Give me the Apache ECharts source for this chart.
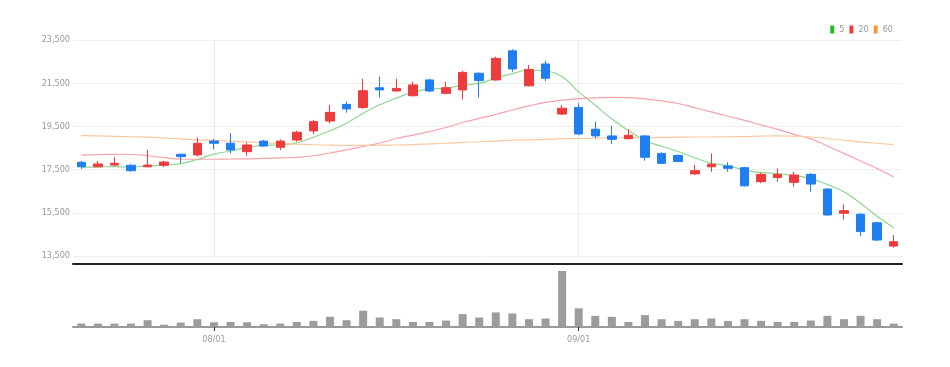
<!DOCTYPE html>
<html>
<head>
<meta charset="utf-8">
<script src="https://cdn.jsdelivr.net/npm/echarts@6/dist/echarts.min.js"></script>
<style>html,body{margin:0;padding:0;background:#fff;}#c{width:950px;height:367px;}</style>
</head>
<body>
<div id="c"></div>
<script>
const dates = ['07/20','07/21','07/24','07/25','07/26','07/27','07/28','07/31',
  '08/01','08/02','08/03','08/04','08/07','08/08','08/09','08/10','08/11','08/14','08/16','08/17','08/18',
  '08/21','08/22','08/23','08/24','08/25','08/28','08/29','08/30','08/31',
  '09/01','09/04','09/05','09/06','09/07','09/08','09/11','09/12','09/13','09/14','09/15',
  '09/18','09/19','09/20','09/21','09/22','09/25','09/26','09/27','10/04'];
const tickLabels = ['08/01','09/01'];
const opens  = [17840,17630,17710,17700,17630,17700,18210,18180,18820,18720,18330,18820,18530,18870,19290,19750,20520,20380,21290,21140,
                20920,21650,21030,21190,21960,21650,23000,21380,22390,20070,20380,19370,19060,18930,19060,18250,18160,17300,17630,17670,
                17590,16940,17130,16910,17280,16600,15480,15430,15040,13960];
const closes = [17630,17760,17790,17450,17710,17850,18100,18720,18720,18410,18640,18590,18820,19230,19720,20150,20310,21150,21190,21260,
                21420,21140,21290,22000,21620,22650,22160,22140,21730,20340,19150,19060,18900,19090,18070,17790,17870,17450,17750,17560,
                16750,17280,17280,17250,16830,15400,15600,14630,14240,14160];
const lows   = [17530,17610,17670,17400,17610,17610,17790,18100,18440,18250,18140,18560,18410,18790,19150,19640,20130,20310,20830,21110,
                20880,21080,21000,20750,20830,21620,22030,21340,21600,20030,19100,18950,18690,18900,17910,17750,17840,17250,17400,17400,
                16710,16870,16940,16710,16480,15370,15200,14430,14190,13880];
const highs  = [17900,17900,18070,17750,18410,17900,18240,18980,18920,19180,18750,18870,18900,19300,19800,20490,20640,21700,21800,21700,
                21570,21700,21570,22080,22000,22730,23070,22340,22540,20490,20570,19720,19520,19370,19100,18300,18190,17710,18250,17840,
                17630,17360,17560,17400,17330,16630,15890,15500,15090,14470];
const ma5  = [17610,17620,17640,17620,17670,17710,17780,17970,18220,18360,18520,18620,18640,18740,19000,19300,19650,20110,20500,20810,
              21070,21230,21260,21420,21490,21740,21940,22110,22060,21800,21100,20480,19840,19310,18850,18580,18340,18050,17790,17680,
              17480,17360,17320,17220,17080,16810,16470,15940,15340,14810];
const ma20 = [18170,18190,18210,18200,18140,18050,17990,17980,17980,17990,18000,18020,18040,18070,18140,18270,18410,18570,18730,18940,
              19100,19260,19450,19680,19870,20050,20260,20450,20610,20720,20790,20820,20840,20830,20770,20680,20560,20370,20170,19970,
              19780,19570,19360,19130,18920,18590,18250,17900,17550,17160];
const ma60 = [19070,19060,19040,19020,19000,18960,18920,18880,18850,18820,18780,18740,18710,18680,18650,18630,18620,18620,18630,18640,
              18660,18690,18720,18760,18790,18820,18860,18880,18900,18930,18940,18960,18970,18980,18980,18990,19000,19010,19010,19020,
              19030,19050,19060,19050,19010,18940,18860,18780,18720,18660];
const volumes = [100,100,100,100,200,70,130,230,140,150,140,80,100,150,180,300,200,480,280,230,
                 150,150,190,380,280,430,400,230,250,1650,550,330,300,150,350,230,180,230,250,180,
                 230,180,150,150,190,330,230,330,230,100];

const UP = '#ee3b3b', DOWN = '#1f7ef0';
const FONT = "'Liberation Sans Narrow', 'DejaVu Sans Condensed', sans-serif";
const showTick = (i, v) => tickLabels.indexOf(v) >= 0;
const kdata = dates.map((d, i) => [opens[i], closes[i], lows[i], highs[i]]);

const chart = echarts.init(document.getElementById('c'), null, {renderer: 'canvas'});
chart.setOption({
  animation: false,
  backgroundColor: '#fff',
  legend: {
    right: 52, top: 20, itemWidth: 4, itemHeight: 8, itemGap: 5, icon: 'rect',
    textStyle: {color: '#999', fontSize: 9, fontFamily: FONT},
    data: [
      {name: '5', itemStyle: {color: '#22bb22'}},
      {name: '20', itemStyle: {color: '#f03c3c'}},
      {name: '60', itemStyle: {color: '#f5963a'}}
    ]
  },
  grid: [
    {left: 73, right: 48, top: 40, height: 216},
    {left: 73, right: 48, top: 271, bottom: 40}
  ],
  xAxis: [
    {
      type: 'category', data: dates, gridIndex: 0, boundaryGap: true, offset: 8,
      axisLine: {lineStyle: {color: '#222', width: 2}},
      axisTick: {show: false}, axisLabel: {show: false},
      splitLine: {show: false}
    },
    {
      type: 'category', data: dates, gridIndex: 1, boundaryGap: true,
      axisLine: {lineStyle: {color: '#9a9a9a', width: 2}},
      axisTick: {show: true, interval: showTick, alignWithLabel: true, length: 4, lineStyle: {color: '#333'}},
      axisLabel: {interval: showTick, color: '#999', fontSize: 9, fontFamily: FONT, margin: 8},
      splitLine: {show: false}
    }
  ],
  yAxis: [
    {
      type: 'value', gridIndex: 0, min: 13500, max: 23500, interval: 2000, scale: true,
      axisLine: {show: false}, axisTick: {show: false},
      axisLabel: {color: '#999', fontSize: 9, fontFamily: FONT, margin: 3,
        formatter: v => v.toLocaleString('en-US')},
      splitLine: {lineStyle: {color: '#eee', width: 1}}
    },
    {
      type: 'value', gridIndex: 1, min: 0, max: 'dataMax',
      axisLine: {show: false}, axisTick: {show: false}, axisLabel: {show: false},
      splitLine: {show: false}
    }
  ],
  series: [
    {
      name: 'candle', type: 'candlestick', xAxisIndex: 0, yAxisIndex: 0, data: kdata,
      barWidth: 9, z: 3,
      itemStyle: {color: UP, color0: DOWN, borderColor: UP, borderColor0: DOWN, borderWidth: 1},
      markLine: {
        silent: true, symbol: ['none', 'none'], label: {show: false}, z: 0,
        lineStyle: {color: '#ebebeb', width: 1, type: 'solid'},
        data: tickLabels.map(t => ({xAxis: t}))
      }
    },
    {
      name: '5', type: 'line', xAxisIndex: 0, yAxisIndex: 0, data: ma5, smooth: true,
      showSymbol: false, symbol: 'none', color: '#22bb22',
      lineStyle: {color: '#8fd68f', width: 1.2}
    },
    {
      name: '20', type: 'line', xAxisIndex: 0, yAxisIndex: 0, data: ma20, smooth: true,
      showSymbol: false, symbol: 'none', color: '#f03c3c',
      lineStyle: {color: '#f6a3a8', width: 1.2}
    },
    {
      name: '60', type: 'line', xAxisIndex: 0, yAxisIndex: 0, data: ma60, smooth: true,
      showSymbol: false, symbol: 'none', color: '#f5963a',
      lineStyle: {color: '#f9c9a0', width: 1.2}
    },
    {
      name: 'vol', type: 'bar', xAxisIndex: 1, yAxisIndex: 1, data: volumes, barWidth: 8,
      itemStyle: {color: '#9c9c9c'}
    }
  ]
});
</script>
</body>
</html>
